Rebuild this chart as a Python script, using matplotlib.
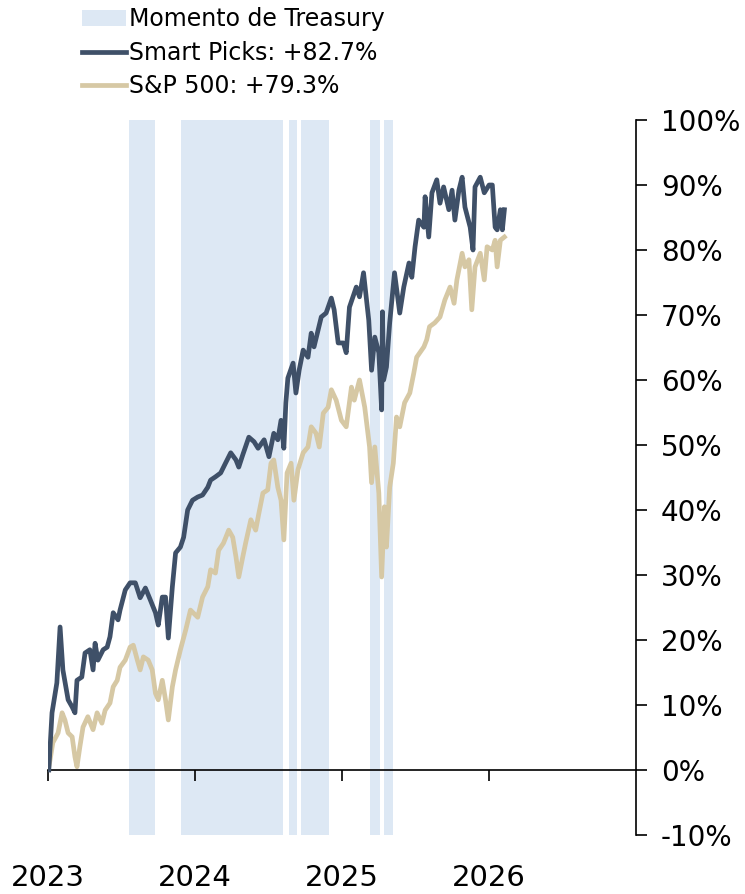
import matplotlib
matplotlib.use("Agg")
import matplotlib.pyplot as plt
import matplotlib.dates as mdates
from matplotlib.ticker import FuncFormatter
import pandas as pd

# Smart Picks cumulative return (%)
sp_dates = ["2023-01-03", "2023-01-11", "2023-01-23", "2023-01-31", "2023-02-07", "2023-02-20",
            "2023-03-02", "2023-03-09", "2023-03-14", "2023-03-26", "2023-04-03", "2023-04-15",
            "2023-04-23", "2023-04-28", "2023-05-05", "2023-05-18", "2023-05-28", "2023-06-04",
            "2023-06-12", "2023-06-24", "2023-06-29", "2023-07-12", "2023-07-24", "2023-08-06",
            "2023-08-18", "2023-08-31", "2023-09-12", "2023-09-25", "2023-10-02", "2023-10-12",
            "2023-10-20", "2023-10-27", "2023-11-06", "2023-11-14", "2023-11-26", "2023-12-04",
            "2023-12-14", "2023-12-26", "2024-01-08", "2024-01-20", "2024-02-02", "2024-02-09",
            "2024-02-21", "2024-03-05", "2024-03-17", "2024-03-30", "2024-04-12", "2024-04-19",
            "2024-04-29", "2024-05-14", "2024-05-27", "2024-06-06", "2024-06-21", "2024-07-03",
            "2024-07-15", "2024-07-25", "2024-08-02", "2024-08-09", "2024-08-14", "2024-08-19",
            "2024-09-01", "2024-09-08", "2024-09-16", "2024-09-26", "2024-10-08", "2024-10-16",
            "2024-10-23", "2024-11-10", "2024-11-22", "2024-12-05", "2024-12-12", "2024-12-22",
            "2025-01-04", "2025-01-11", "2025-01-19", "2025-02-05", "2025-02-13", "2025-02-23",
            "2025-03-08", "2025-03-15", "2025-03-23", "2025-04-02", "2025-04-09", "2025-04-11",
            "2025-04-14", "2025-04-21", "2025-04-29", "2025-05-11", "2025-05-24", "2025-06-03",
            "2025-06-16", "2025-06-23", "2025-07-01", "2025-07-10", "2025-07-23", "2025-07-26",
            "2025-08-04", "2025-08-12", "2025-08-24", "2025-09-01", "2025-09-10", "2025-09-23",
            "2025-10-01", "2025-10-08", "2025-10-18", "2025-10-26", "2025-11-02", "2025-11-15",
            "2025-11-22", "2025-11-27", "2025-12-10", "2025-12-20", "2026-01-01", "2026-01-09",
            "2026-01-16", "2026-01-21", "2026-01-29", "2026-02-03", "2026-02-08"]
sp_values = [0.0, 8.8, 13.4, 22.0, 15.4, 10.8,
             9.7, 8.8, 13.8, 14.3, 18.0, 18.5,
             15.4, 19.5, 16.9, 18.5, 18.9, 20.5,
             24.2, 23.1, 24.6, 27.7, 28.8, 28.8,
             26.5, 28.0, 26.2, 24.2, 22.3, 26.6,
             26.6, 20.3, 28.2, 33.4, 34.3, 35.8,
             40.0, 41.5, 42.0, 42.3, 43.5, 44.6,
             45.1, 45.7, 47.2, 48.8, 47.7, 46.6,
             48.5, 51.2, 50.5, 49.5, 50.8, 48.2,
             51.8, 50.8, 53.8, 49.5, 56.5, 60.3,
             62.6, 58.0, 61.5, 64.6, 63.5, 67.2,
             65.1, 69.7, 70.3, 72.6, 70.8, 65.7,
             65.7, 64.2, 71.2, 74.3, 72.8, 76.5,
             69.2, 61.5, 66.6, 64.2, 55.4, 70.5,
             60.0, 62.0, 68.8, 76.5, 70.3, 74.3,
             78.0, 75.8, 80.5, 84.6, 83.5, 88.2,
             82.0, 88.8, 90.8, 87.2, 89.7, 86.2,
             89.2, 84.6, 89.2, 91.2, 86.6, 83.5,
             80.0, 89.7, 91.2, 88.8, 90.0, 90.0,
             83.5, 83.1, 86.2, 83.1, 86.2]

# S&P 500 cumulative return (%)
spx_dates = ["2023-01-03", "2023-01-06", "2023-01-13", "2023-01-26", "2023-02-05", "2023-02-12",
             "2023-02-20", "2023-03-02", "2023-03-09", "2023-03-14", "2023-03-21", "2023-03-29",
             "2023-04-10", "2023-04-23", "2023-05-03", "2023-05-15", "2023-05-23", "2023-06-04",
             "2023-06-12", "2023-06-22", "2023-06-29", "2023-07-12", "2023-07-24", "2023-08-01",
             "2023-08-11", "2023-08-18", "2023-08-26", "2023-09-07", "2023-09-17", "2023-09-25",
             "2023-10-02", "2023-10-12", "2023-10-20", "2023-10-27", "2023-11-06", "2023-11-14",
             "2023-11-26", "2023-12-09", "2023-12-21", "2024-01-08", "2024-01-20", "2024-02-02",
             "2024-02-09", "2024-02-21", "2024-02-29", "2024-03-12", "2024-03-25", "2024-04-04",
             "2024-04-12", "2024-04-19", "2024-04-29", "2024-05-06", "2024-05-19", "2024-05-31",
             "2024-06-08", "2024-06-18", "2024-06-30", "2024-07-08", "2024-07-15", "2024-07-25",
             "2024-08-02", "2024-08-09", "2024-08-17", "2024-08-27", "2024-09-03", "2024-09-13",
             "2024-09-26", "2024-10-08", "2024-10-16", "2024-10-28", "2024-11-05", "2024-11-15",
             "2024-11-27", "2024-12-05", "2024-12-17", "2024-12-30", "2025-01-11", "2025-01-24",
             "2025-01-31", "2025-02-13", "2025-02-26", "2025-03-10", "2025-03-15", "2025-03-23",
             "2025-04-02", "2025-04-09", "2025-04-16", "2025-04-21", "2025-04-29", "2025-05-08",
             "2025-05-16", "2025-05-24", "2025-06-05", "2025-06-18", "2025-06-28", "2025-07-05",
             "2025-07-23", "2025-07-30", "2025-08-06", "2025-08-19", "2025-09-01", "2025-09-13",
             "2025-09-26", "2025-10-06", "2025-10-13", "2025-10-26", "2025-11-02", "2025-11-12",
             "2025-11-19", "2025-11-27", "2025-12-10", "2025-12-20", "2025-12-27", "2026-01-09",
             "2026-01-16", "2026-01-21", "2026-01-29", "2026-02-08"]
spx_values = [0.5, 1.5, 4.2, 5.7, 8.8, 7.7,
              5.7, 5.1, 2.0, 0.5, 3.5, 6.6,
              8.2, 6.2, 8.8, 7.2, 9.2, 10.3,
              12.8, 13.8, 15.8, 16.9, 18.9, 19.2,
              16.9, 15.4, 17.4, 16.9, 15.4, 11.8,
              10.8, 13.8, 10.8, 7.7, 12.8, 15.4,
              18.5, 21.5, 24.6, 23.5, 26.6, 28.2,
              30.8, 30.3, 33.8, 34.9, 36.9, 35.8,
              32.8, 29.7, 32.8, 34.9, 38.5, 36.9,
              39.5, 42.6, 43.1, 47.2, 47.7, 43.5,
              41.5, 35.4, 45.7, 47.2, 41.5, 46.2,
              48.8, 49.7, 52.8, 51.8, 49.7, 54.9,
              55.8, 58.5, 56.9, 53.8, 52.8, 58.9,
              56.9, 60.0, 55.8, 49.7, 44.2, 49.7,
              42.6, 29.7, 40.5, 34.3, 43.5, 47.2,
              54.3, 52.8, 56.5, 58.0, 61.1, 63.5,
              65.1, 66.2, 68.2, 68.8, 69.7, 72.3,
              74.3, 71.8, 75.4, 79.5, 77.4, 78.5,
              70.8, 77.4, 79.5, 75.4, 80.5, 80.0,
              81.5, 77.4, 81.5, 82.0]

# periods shaded as "Momento de Treasury"
treasury_start = ["2023-07-21", "2023-11-28", "2024-08-22", "2024-09-21", "2025-03-12", "2025-04-14"]
treasury_end = ["2023-09-24", "2024-08-07", "2024-09-11", "2024-11-29", "2025-04-04", "2025-05-06"]

labels = ["Momento de Treasury", "Smart Picks: +82.7%", "S&P 500: +79.3%"]
year_ticks = ["2023-01-01", "2024-01-01", "2025-01-01", "2026-01-01"]

navy = "#3f5068"
tan = "#d6c8a4"
shade = "#dde8f4"

fig = plt.figure(figsize=(7.45, 8.94), dpi=100)
ax = fig.add_axes([48 / 745, 59 / 894, 588 / 745, 715 / 894])

for i, (s, e) in enumerate(zip(treasury_start, treasury_end)):
    ax.axvspan(pd.Timestamp(s), pd.Timestamp(e), color=shade, lw=0,
               label=labels[0] if i == 0 else None, zorder=0)

ax.plot(pd.to_datetime(sp_dates), sp_values, color=navy, lw=3.4, label=labels[1], zorder=3)
ax.plot(pd.to_datetime(spx_dates), spx_values, color=tan, lw=3.4, label=labels[2], zorder=2)

ax.set_xlim(pd.Timestamp("2023-01-01"), pd.Timestamp("2027-01-01"))
ax.set_ylim(-10, 100)

# spines: right axis, zero line, nothing else
ax.spines["top"].set_visible(False)
ax.spines["left"].set_visible(False)
ax.spines["right"].set_linewidth(1.2)
ax.spines["bottom"].set_position(("data", 0))
ax.spines["bottom"].set_linewidth(1.2)

ax.yaxis.tick_right()
ax.set_yticks(range(-10, 101, 10))
ax.yaxis.set_major_formatter(FuncFormatter(lambda v, p: f"{v:.0f}%"))
ax.tick_params(axis="y", direction="out", length=8, width=1.2, pad=10, labelsize=20)

ax.set_xticks(pd.to_datetime(year_ticks))
ax.xaxis.set_major_formatter(mdates.DateFormatter("%Y"))
ax.tick_params(axis="x", direction="out", length=8, width=1.2, pad=60, labelsize=21)

fig.legend(loc="upper left", bbox_to_anchor=(80 / 745, 1 - 5 / 894), frameon=False,
           fontsize=17, handlelength=1.85, handletextpad=0.12, labelspacing=0.4,
           borderaxespad=0, borderpad=0.1)

fig.savefig("out.png", dpi=100)
